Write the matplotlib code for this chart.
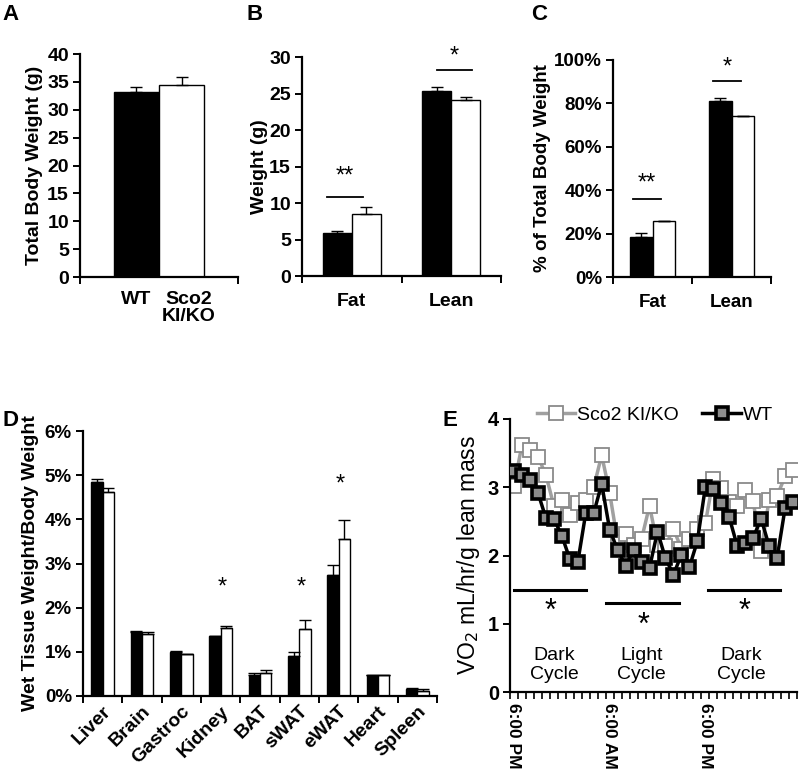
import numpy as np
import matplotlib
matplotlib.use("Agg")
import matplotlib.pyplot as plt
from matplotlib.ticker import FuncFormatter

plt.rcParams['font.family'] = ['Liberation Sans', 'DejaVu Sans']

# panel A - total body weight
groups = ['WT', 'Sco2\nKI/KO']
body_weight = [33.2, 34.5]
body_weight_err = [0.8, 1.3]

# panel B - body composition (g)
comp_cats = ['Fat', 'Lean']
comp_wt = [5.85, 25.4]
comp_wt_err = [0.3, 0.45]
comp_ko = [8.45, 24.1]
comp_ko_err = [0.95, 0.4]

# panel C - body composition (% of body weight)
pct_wt = [0.185, 0.81]
pct_wt_err = [0.018, 0.013]
pct_ko = [0.257, 0.74]
pct_ko_err = [0.0, 0.0]

# panel D - tissue weights (% body weight)
tissues = ['Liver', 'Brain', 'Gastroc', 'Kidney', 'BAT', 'sWAT', 'eWAT', 'Heart', 'Spleen']
tissue_wt = [0.0485, 0.0146, 0.0100, 0.0135, 0.0048, 0.0091, 0.0275, 0.0047, 0.0015]
tissue_wt_err = [0.0006, 0.0002, 0.0002, 0.0001, 0.0004, 0.0008, 0.0021, 0.0001, 0.0003]
tissue_ko = [0.0463, 0.0140, 0.0094, 0.0154, 0.0053, 0.0151, 0.0355, 0.0047, 0.0012]
tissue_ko_err = [0.0007, 0.0004, 0.0001, 0.0005, 0.0005, 0.0020, 0.0044, 0.0001, 0.0003]
tissue_sig = ['', '', '', '*', '', '*', '*', '', '']

# panel E - VO2 time course (hourly from 6:00 PM)
vo2_ko = [3.02, 3.62, 3.54, 3.45, 3.18, 2.73, 2.81, 2.60, 2.77, 2.81, 3.00, 3.47,
          2.92, 2.20, 2.32, 2.15, 2.24, 2.73, 2.15, 2.14, 2.39, 2.10, 2.24, 2.39,
          2.47, 3.12, 2.99, 2.78, 2.73, 2.96, 2.80, 2.06, 2.82, 2.87, 3.16, 3.26]
vo2_wt = [3.24, 3.18, 3.11, 2.92, 2.55, 2.54, 2.29, 1.95, 1.90, 2.62, 2.62, 3.05,
          2.38, 2.08, 1.85, 2.08, 1.90, 1.82, 2.35, 1.96, 1.72, 2.01, 1.83, 2.21,
          3.00, 2.97, 2.77, 2.56, 2.14, 2.19, 2.26, 2.54, 2.14, 1.96, 2.69, 2.78]
time_labels = ['6:00 PM', '6:00 AM', '6:00 PM']
cycle_labels = ['Dark\nCycle', 'Light\nCycle', 'Dark\nCycle']

fig = plt.figure(figsize=(8, 7.8), dpi=100)

def style_axes(ax, size):
    ax.spines['top'].set_visible(False)
    ax.spines['right'].set_visible(False)
    ax.spines['left'].set_linewidth(1.6)
    ax.spines['bottom'].set_linewidth(1.6)
    ax.tick_params(axis='y', direction='out', length=5, width=1.4, labelsize=size, pad=3)
    for t in ax.get_yticklabels():
        t.set_fontweight('bold')

def panel_label(x, y, s):
    fig.text(x / 800, 1 - y / 780, s, fontsize=16, fontweight='bold', va='center', ha='left')

bar_kw = dict(edgecolor='black', linewidth=1.0, error_kw=dict(elinewidth=1.0, capsize=4, capthick=1.0, ecolor='black'))

# ---- A
axA = fig.add_axes([80 / 800, 1 - 277 / 780, 158 / 800, 223 / 780])
xa = np.array([-0.5, 0.5])
axA.bar(xa, body_weight, width=1.0, color=['black', 'white'],
        yerr=[[0, 0], body_weight_err], **bar_kw)
axA.set_xlim(-1.755, 1.755)
axA.set_ylim(0, 40)
axA.set_yticks(range(0, 41, 5))
axA.set_xticks([-1.755, 1.755], minor=True)
axA.tick_params(axis='x', which='minor', direction='out', length=5, width=1.4)
axA.set_xticks(xa + np.array([0.0, 0.15]))
axA.set_xticklabels(groups, fontsize=14, fontweight='bold', linespacing=1.0)
axA.tick_params(axis='x', which='major', length=0, pad=10)
axA.set_ylabel('Total Body Weight (g)', fontsize=14, fontweight='bold', labelpad=3)
style_axes(axA, 14)

def grouped(ax, vals_wt, err_wt, vals_ko, err_ko, w):
    x = np.arange(len(vals_wt))
    ax.bar(x - w / 2, vals_wt, width=w, color='black',
           yerr=[np.zeros(len(x)), err_wt], **bar_kw)
    ax.bar(x + w / 2, vals_ko, width=w, color='white',
           yerr=[np.zeros(len(x)), err_ko], **bar_kw)
    ax.set_xlim(-0.5, len(x) - 0.5)
    ax.set_xticks(np.arange(len(x) + 1) - 0.5, minor=True)
    ax.tick_params(axis='x', which='minor', direction='out', length=5, width=1.4)
    ax.tick_params(axis='x', which='major', length=0)
    ax.set_xticks(x)
    return x

# ---- B
axB = fig.add_axes([302 / 800, 1 - 276 / 780, 199 / 800, 219 / 780])
grouped(axB, comp_wt, comp_wt_err, comp_ko, comp_ko_err, 0.29)
axB.set_xticklabels(comp_cats, fontsize=14, fontweight='bold')
axB.tick_params(axis='x', which='major', pad=12)
axB.set_ylim(0, 30)
axB.set_yticks(range(0, 31, 5))
axB.set_ylabel('Weight (g)', fontsize=14, fontweight='bold', labelpad=1)
axB.plot([-0.25, 0.11], [10.85, 10.85], color='black', lw=1.3)
axB.text(-0.07, 13.6, '**', ha='center', va='center', fontsize=17)
axB.plot([0.86, 1.21], [28.2, 28.2], color='black', lw=1.3)
axB.text(1.03, 30.0, '*', ha='center', va='center', fontsize=17)
style_axes(axB, 14)

# ---- C
axC = fig.add_axes([613 / 800, 1 - 277 / 780, 158 / 800, 217 / 780])
grouped(axC, pct_wt, pct_wt_err, pct_ko, pct_ko_err, 0.28)
axC.set_xticklabels(comp_cats, fontsize=13.5, fontweight='bold')
axC.tick_params(axis='x', which='major', pad=12)
axC.set_ylim(0, 1.0)
axC.set_yticks(np.arange(0, 1.01, 0.2))
axC.yaxis.set_major_formatter(FuncFormatter(lambda v, p: f'{v * 100:.0f}%'))
axC.set_ylabel('% of Total Body Weight', fontsize=13.5, fontweight='bold', labelpad=2)
axC.plot([-0.25, 0.11], [0.358, 0.358], color='black', lw=1.3)
axC.text(-0.07, 0.43, '**', ha='center', va='center', fontsize=17)
axC.plot([0.76, 1.12], [0.903, 0.903], color='black', lw=1.3)
axC.text(0.94, 0.965, '*', ha='center', va='center', fontsize=17)
style_axes(axC, 13.5)

# ---- D
axD = fig.add_axes([83 / 800, 1 - 696 / 780, 354 / 800, 265 / 780])
xd = grouped(axD, tissue_wt, tissue_wt_err, tissue_ko, tissue_ko_err, 0.29)
axD.set_xticklabels(tissues, fontsize=14, fontweight='bold', rotation=45,
                    ha='right', rotation_mode='anchor')
axD.tick_params(axis='x', which='major', pad=5)
axD.set_ylim(0, 0.06)
axD.set_yticks(np.arange(0, 0.061, 0.01))
axD.yaxis.set_major_formatter(FuncFormatter(lambda v, p: f'{v * 100:.0f}%'))
axD.set_ylabel('Wet Tissue Weight/Body Weight', fontsize=14, fontweight='bold', labelpad=4)
for i, s in enumerate(tissue_sig):
    if s:
        top = max(tissue_wt[i] + tissue_wt_err[i], tissue_ko[i] + tissue_ko_err[i])
        y = 0.0478 if top > 0.03 else 0.0245
        axD.text(xd[i] + 0.05, y, s, ha='center', va='center', fontsize=17)
style_axes(axD, 13.5)

# ---- E
axE = fig.add_axes([510 / 800, 1 - 692 / 780, 287 / 800, 273 / 780])
xe = np.arange(len(vo2_wt))
axE.plot(xe, vo2_ko, color='#a0a0a0', lw=2.5, marker='s', markersize=10,
         markerfacecolor='white', markeredgecolor='#8a8a8a', markeredgewidth=1.3,
         label='Sco2 KI/KO', zorder=2)
axE.plot(xe, vo2_wt, color='black', lw=2.5, marker='s', markersize=8,
         markerfacecolor='#8c8c8c', markeredgecolor='black', markeredgewidth=2.6,
         label='WT', zorder=3)
axE.set_xlim(-0.5, len(xe) - 0.5)
axE.set_ylim(0, 4)
axE.set_yticks(range(0, 5))
axE.set_xticks(np.arange(len(xe) + 1) - 0.5, minor=True)
axE.tick_params(axis='x', which='minor', direction='out', length=5, width=1.2)
axE.set_xticks([0, 12, 24])
axE.set_xticklabels(time_labels, rotation=-90, fontsize=12.5, fontweight='bold', va='top', ha='center')
axE.tick_params(axis='x', which='major', length=0, pad=8)
axE.set_ylabel('VO$_2$ mL/hr/g lean mass', fontsize=16.5, labelpad=4)
bars_e = [(0, 9.07, 1.5), (11.6, 20.7, 1.3), (24.3, 33.4, 1.5)]
stars_e = [(4.6, 1.17), (16.2, 0.97), (28.9, 1.17)]
text_x = [5.1, 16.0, 28.5]
for (x0, x1, y), (sx, sy), tx, lab in zip(bars_e, stars_e, text_x, cycle_labels):
    axE.plot([x0, x1], [y, y], color='black', lw=2.2)
    axE.text(sx, sy, '*', ha='center', va='center', fontsize=22)
    axE.text(tx, 0.4, lab, ha='center', va='center', fontsize=14, linespacing=1.15)
style_axes(axE, 14.5)
fig.legend(*axE.get_legend_handles_labels(), loc='center', ncol=2,
           bbox_to_anchor=(655 / 800, 1 - 415 / 780), frameon=False, fontsize=14,
           handlelength=2.0, handletextpad=0.1, columnspacing=1.2, borderpad=0)

panel_label(2, 15, 'A')
panel_label(246, 15, 'B')
panel_label(531, 15, 'C')
panel_label(2, 420, 'D')
panel_label(442, 420, 'E')

fig.savefig('out.png', dpi=100)
